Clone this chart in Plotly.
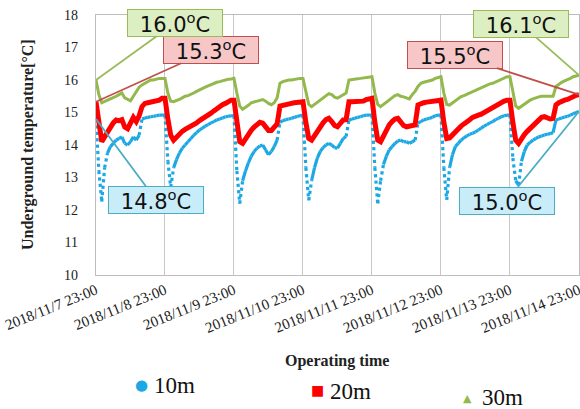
import pandas as pd
import plotly.graph_objects as go

# ---------------- data (hourly readings, 2018/11/7 23:00 -> 2018/11/14 23:00) ----------------
start_time = "2018-11-07 23:00"
tick_dates = ["2018-11-07 23:00", "2018-11-08 23:00", "2018-11-09 23:00", "2018-11-10 23:00",
              "2018-11-11 23:00", "2018-11-12 23:00", "2018-11-13 23:00", "2018-11-14 23:00"]
tick_labels = ["2018/11/7 23:00", "2018/11/8 23:00", "2018/11/9 23:00", "2018/11/10 23:00",
               "2018/11/11 23:00", "2018/11/12 23:00", "2018/11/13 23:00", "2018/11/14 23:00"]

temp_10m = [
    14.8, 13.2, 12.26, 13.3, 13.75, 13.95, 14.05, 14.15, 14.2, 14.25, 14.05, 14.0, 14.1, 14.25, 14.15, 14.3, 14.8, 14.83, 14.85, 14.87, 14.88, 14.9, 14.92, 14.92,
    14.92, 13.5, 12.7, 13.3, 13.55, 13.75, 13.9, 14.0, 14.1, 14.2, 14.3, 14.38, 14.46, 14.52, 14.58, 14.63, 14.68, 14.72, 14.77, 14.8, 14.83, 14.87, 14.88, 14.9,
    14.9, 13.2, 12.2, 12.9, 13.2, 13.45, 13.65, 13.8, 13.9, 13.97, 14.0, 13.85, 13.7, 13.8, 13.95, 14.15, 14.7, 14.75, 14.78, 14.8, 14.82, 14.85, 14.88, 14.9,
    14.92, 13.3, 12.3, 12.9, 13.3, 13.6, 13.8, 13.92, 14.0, 14.05, 14.0, 13.92, 13.9, 14.05, 14.2, 14.26, 14.77, 14.8, 14.82, 14.85, 14.87, 14.9, 14.92, 14.92,
    14.92, 13.3, 12.2, 12.9, 13.4, 13.65, 13.85, 13.95, 14.05, 14.12, 14.15, 14.1, 14.1, 14.05, 14.1, 14.15, 14.67, 14.72, 14.77, 14.8, 14.82, 14.85, 14.9, 14.92,
    14.92, 13.3, 12.31, 13.3, 13.7, 13.95, 14.05, 14.15, 14.22, 14.28, 14.33, 14.36, 14.4, 14.46, 14.52, 14.58, 14.63, 14.68, 14.72, 14.78, 14.82, 14.87, 14.9, 14.92,
    14.92, 13.6, 12.9, 12.77, 13.5, 13.8, 14.0, 14.08, 14.15, 14.2, 14.25, 14.28, 14.31, 14.33, 14.35, 14.38, 14.77, 14.8, 14.83, 14.86, 14.88, 14.92, 14.96, 15.0, 15.03,
]

temp_20m = [
    15.33, 14.6, 14.1, 14.25, 14.4, 14.55, 14.68, 14.77, 14.75, 14.78, 14.55, 14.5, 14.72, 14.85, 14.72, 14.9, 15.18, 15.28, 15.3, 15.32, 15.32, 15.33, 15.38, 15.44,
    15.44, 14.8, 14.3, 14.15, 14.25, 14.35, 14.42, 14.48, 14.52, 14.56, 14.62, 14.68, 14.75, 14.8, 14.88, 14.92, 14.98, 15.05, 15.12, 15.18, 15.24, 15.28, 15.33, 15.38,
    15.38, 14.7, 14.1, 14.05, 14.2, 14.35, 14.45, 14.55, 14.65, 14.7, 14.67, 14.55, 14.45, 14.45, 14.55, 14.65, 15.2, 15.23, 15.25, 15.28, 15.28, 15.3, 15.32, 15.33,
    15.33, 14.7, 14.2, 14.15, 14.3, 14.45, 14.56, 14.68, 14.78, 14.82, 14.72, 14.6, 14.56, 14.7, 14.77, 14.78, 15.33, 15.33, 15.33, 15.34, 15.35, 15.35, 15.4, 15.44,
    15.44, 14.7, 14.15, 14.1, 14.3, 14.5, 14.62, 14.72, 14.8, 14.82, 14.7, 14.6, 14.56, 14.58, 14.6, 14.62, 15.23, 15.28, 15.3, 15.32, 15.33, 15.35, 15.37, 15.38,
    15.38, 14.7, 14.2, 14.22, 14.32, 14.42, 14.5, 14.58, 14.65, 14.7, 14.78, 14.85, 14.9, 14.92, 14.95, 15.0, 15.08, 15.12, 15.18, 15.22, 15.27, 15.31, 15.35, 15.38,
    15.38, 14.7, 14.15, 14.05, 14.2, 14.32, 14.42, 14.5, 14.6, 14.7, 14.78, 14.85, 14.87, 14.82, 14.8, 14.82, 15.23, 15.3, 15.35, 15.38, 15.4, 15.45, 15.5, 15.53, 15.55,
]

temp_30m = [
    16.0, 15.55, 15.3, 15.33, 15.38, 15.42, 15.45, 15.5, 15.55, 15.6, 15.45, 15.4, 15.36, 15.5, 15.65, 15.78, 15.85, 15.9, 15.95, 16.0, 16.0, 16.03, 16.05, 16.05,
    16.05, 15.6, 15.35, 15.33, 15.36, 15.4, 15.45, 15.5, 15.52, 15.55, 15.6, 15.65, 15.7, 15.73, 15.78, 15.82, 15.86, 15.9, 15.93, 15.95, 15.98, 16.0, 16.02, 16.03,
    16.05, 15.6, 15.2, 15.1, 15.15, 15.22, 15.3, 15.33, 15.36, 15.38, 15.4, 15.35, 15.28, 15.24, 15.3, 15.45, 15.9, 15.95, 15.98, 16.0, 16.0, 16.02, 16.04, 16.05,
    16.05, 15.6, 15.25, 15.18, 15.25, 15.32, 15.38, 15.45, 15.52, 15.58, 15.55, 15.47, 15.44, 15.5, 15.55, 15.6, 16.0, 16.02, 16.03, 16.04, 16.05, 16.06, 16.08, 16.1,
    16.1, 15.6, 15.25, 15.18, 15.25, 15.33, 15.4, 15.46, 15.52, 15.55, 15.5, 15.48, 15.45, 15.42, 15.55, 15.65, 15.8, 15.9, 15.93, 15.95, 15.97, 16.0, 16.05, 16.08,
    16.1, 15.6, 15.25, 15.23, 15.3, 15.37, 15.43, 15.49, 15.52, 15.56, 15.6, 15.64, 15.69, 15.72, 15.76, 15.8, 15.84, 15.88, 15.9, 15.94, 15.98, 16.02, 16.06, 16.1,
    16.1, 15.6, 15.2, 15.13, 15.2, 15.27, 15.33, 15.38, 15.42, 15.46, 15.48, 15.5, 15.49, 15.5, 15.5, 15.5, 15.8, 15.88, 15.93, 15.97, 16.0, 16.05, 16.1, 16.13, 16.15,
]

series_names = ["10m", "20m", "30m"]
callout_start = ["14.8", "15.3", "16.0"]
callout_end = ["15.0", "15.5", "16.1"]

times = pd.date_range(start_time, periods=len(temp_10m), freq="h")

# ---------------- styles ----------------
C_BLUE = "#1ca8e4"
C_RED = "#ff0000"
C_GREEN = "#93b84b"
SERIF = "Liberation Serif"
SANS = "DejaVu Sans"

W_PX, H_PX = 580, 409
L, R, T, B = 96, 1, 15, 134
PW, PH = W_PX - L - R, H_PX - T - B


def split_steep(xs, ys, thr):
    """split a series into gradual (solid) and steep (dotted) segments"""
    sx, sy, dx, dy = [], [], [], []
    for i in range(len(ys) - 1):
        steep = abs(ys[i + 1] - ys[i]) >= thr
        tx, ty = (dx, dy) if steep else (sx, sy)
        tx += [xs[i], xs[i + 1], None]
        ty += [ys[i], ys[i + 1], None]
    return sx, sy, dx, dy


fig = go.Figure()

bx, by, bdx, bdy = split_steep(list(times), temp_10m, 0.42)
fig.add_trace(go.Scatter(x=bdx, y=bdy, mode="lines", name="10m",
                         line=dict(color=C_BLUE, width=3.2, dash="dot"), showlegend=False))
fig.add_trace(go.Scatter(x=bx, y=by, mode="lines", name="10m",
                         line=dict(color=C_BLUE, width=3.2), showlegend=False))
fig.add_trace(go.Scatter(x=times, y=temp_20m, mode="lines", name="20m",
                         line=dict(color=C_RED, width=5), showlegend=False))
fig.add_trace(go.Scatter(x=times, y=temp_30m, mode="lines", name="30m",
                         line=dict(color=C_GREEN, width=3), showlegend=False))


def paper(px, py):
    return dict(xref="paper", yref="paper", x=(px - L) / PW, y=(H_PX - B - py) / PH)


ann = []

# callouts
callout_styles = [
    (temp_10m, callout_start[0], "#c9ecf9", "#4bacc6", 60, 81),
    (temp_20m, callout_start[1], "#f7c6c6", "#c0504d", 115, -52),
    (temp_30m, callout_start[2], "#dcefc3", "#9bbb59", 79, -57),
]
for vals, txt, bg, bc, ax, ay in callout_styles:
    ann.append(dict(x=times[0], y=vals[0], xref="x", yref="y", ax=ax, ay=ay,
                    text=f"{txt}<sup>o</sup>C", showarrow=True, arrowhead=0,
                    arrowwidth=1.8, arrowcolor=bc, bgcolor=bg, bordercolor=bc,
                    borderwidth=1, width=94, height=26, borderpad=0,
                    font=dict(family=SANS, size=21, color="#111")))
callout_styles_end = [
    (temp_10m, callout_end[0], "#c9ecf9", "#4bacc6", -72, 89),
    (temp_20m, callout_end[1], "#f7c6c6", "#c0504d", -124, -40),
    (temp_30m, callout_end[2], "#dcefc3", "#9bbb59", -58, -51),
]
for vals, txt, bg, bc, ax, ay in callout_styles_end:
    ann.append(dict(x=times[-1], y=vals[-1], xref="x", yref="y", ax=ax, ay=ay,
                    text=f"{txt}<sup>o</sup>C", showarrow=True, arrowhead=0,
                    arrowwidth=1.8, arrowcolor=bc, bgcolor=bg, bordercolor=bc,
                    borderwidth=1, width=94, height=26, borderpad=0,
                    font=dict(family=SANS, size=21, color="#111")))

# axis titles
ann.append(dict(**paper(28, 145), text="<b>Underground temperature[°C]</b>", textangle=-90,
                showarrow=False, font=dict(family=SERIF, size=16, color="#222"),
                xanchor="center", yanchor="middle"))
ann.append(dict(**paper(337, 361), text="<b>Operating time</b>",
                showarrow=False, font=dict(family=SERIF, size=16, color="#222"),
                xanchor="center", yanchor="middle"))

# legend
legend_items = [
    ("●", C_BLUE, 15, 141, 385, 152, 385),
    ("■", C_RED, 14, 317, 390, 328, 391),
    ("▲", C_GREEN, 11, 467, 398, 480, 397),
]
for (sym, col, ssize, sx, sy, tx, ty), name in zip(legend_items, series_names):
    ann.append(dict(**paper(sx, sy), text=sym, showarrow=False,
                    font=dict(family=SANS, size=ssize, color=col),
                    xanchor="center", yanchor="middle"))
    ann.append(dict(**paper(tx, ty), text=name, showarrow=False,
                    font=dict(family=SERIF, size=23, color="#111"),
                    xanchor="left", yanchor="middle"))

x_end = times[-1] + pd.Timedelta(minutes=1)

fig.update_layout(
    width=W_PX, height=H_PX,
    margin=dict(l=L, r=R, t=T, b=B, autoexpand=False),
    paper_bgcolor="white", plot_bgcolor="white",
    showlegend=False,
    annotations=ann,
    xaxis=dict(type="date", range=[times[0], x_end], automargin=False,
               tickvals=tick_dates, ticktext=tick_labels, tickangle=-22,
               ticklabeloverflow="allow",
               tickfont=dict(family=SERIF, size=15, color="#222"),
               showgrid=True, gridcolor="#c8c8c8", gridwidth=1.2,
               showline=True, linecolor="#bdbdbd", linewidth=1.2, mirror=True,
               ticks="", zeroline=False),
    yaxis=dict(range=[10, 18], dtick=1, tick0=10, automargin=False,
               tickfont=dict(family=SERIF, size=14, color="#222"),
               showgrid=False, showline=True, linecolor="#bdbdbd", linewidth=1.2,
               mirror=True, ticks="", ticklabelstandoff=14, zeroline=False),
)

fig.write_html("out.html", config={"displayModeBar": False},
               post_script="document.body.style.margin='0';document.body.style.overflow='hidden';")
